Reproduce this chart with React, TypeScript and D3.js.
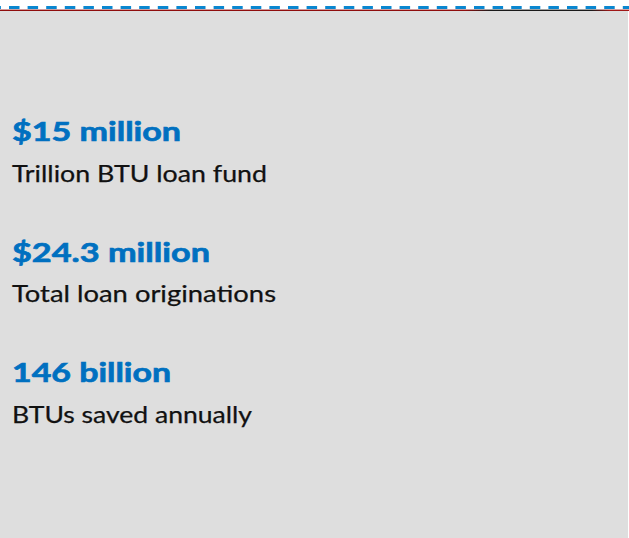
import * as d3 from "d3";

const figures = ["$15 million", "$24.3 million", "146 billion"];
const captions = ["Trillion BTU loan fund", "Total loan originations", "BTUs saved annually"];
// measured text widths in the picture, used to match the narrow original face
const figureWidths = [169, 198, 159];
const captionWidths = [255, 264, 240];

export default function App() {
  const width = 629;
  const height = 538;
  const left = 12;

  const y = d3.scaleLinear().domain([0, figures.length - 1]).range([141, 382]);

  return (
    <svg
      width={width}
      height={height}
      style={{ position: "absolute", left: 0, top: 0, display: "block" }}
    >
      <defs>
        <linearGradient id="rule" x1="0" x2="1" y1="0" y2="0">
          <stop offset="0" stopColor="#8f0d0d" />
          <stop offset="0.74" stopColor="#8f0d0d" />
          <stop offset="0.78" stopColor="#1a1a1a" />
          <stop offset="0.94" stopColor="#1a1a1a" />
          <stop offset="0.97" stopColor="#a01616" />
          <stop offset="1" stopColor="#a01616" />
        </linearGradient>
      </defs>
      <rect x={0} y={0} width={width} height={height} fill="#ffffff" />
      <rect x={0} y={11} width={width - 1} height={height - 11} fill="#dedede" />
      <line
        x1={0}
        x2={width}
        y1={7.5}
        y2={7.5}
        stroke="#0a87d0"
        strokeWidth={3}
        strokeDasharray="10.5 8.1"
        strokeDashoffset={9.6}
      />
      <rect x={0} y={9.6} width={width} height={1.4} fill="url(#rule)" />
      <g fontFamily="Lato, 'Open Sans', sans-serif">
        {figures.map((f, i) => (
          <text
            key={f}
            x={left}
            y={y(i)}
            fontSize={27.5}
            fontWeight={700}
            fill="#0070c0"
            stroke="#0070c0"
            strokeWidth={0.7}
            textLength={figureWidths[i]}
            lengthAdjust="spacingAndGlyphs"
          >
            {f}
          </text>
        ))}
        {captions.map((c, i) => (
          <text
            key={c}
            x={left}
            y={y(i) + 40.5}
            fontSize={23}
            fill="#111111"
            stroke="#111111"
            strokeWidth={0.25}
            textLength={captionWidths[i]}
            lengthAdjust="spacingAndGlyphs"
          >
            {c}
          </text>
        ))}
      </g>
    </svg>
  );
}
